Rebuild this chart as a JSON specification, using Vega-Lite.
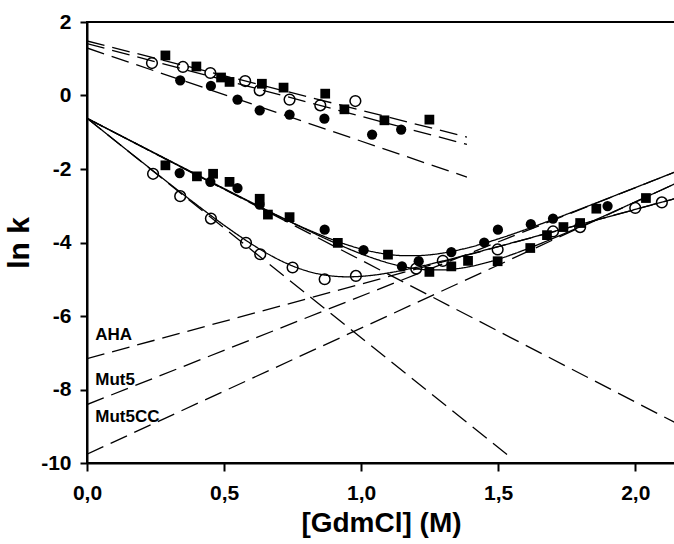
{
  "$schema": "https://vega.github.io/schema/vega-lite/v6.json",
  "width": 588,
  "height": 441,
  "autosize": {"type": "none"},
  "padding": {"left": 87, "top": 22, "right": 0, "bottom": 81},
  "background": "white",
  "config": {"view": {"stroke": "black", "strokeWidth": 2}, "font": "Liberation Sans"},
  "datasets": {
    "pts": [
      {"s": "Mut5CC", "x": 0.286, "y": 1.09}, {"s": "Mut5CC", "x": 0.399, "y": 0.79}, {"s": "Mut5CC", "x": 0.489, "y": 0.49}, {"s": "Mut5CC", "x": 0.52, "y": 0.37}, {"s": "Mut5CC", "x": 0.638, "y": 0.32}, {"s": "Mut5CC", "x": 0.717, "y": 0.215}, {"s": "Mut5CC", "x": 0.869, "y": 0.05}, {"s": "Mut5CC", "x": 0.939, "y": -0.376}, {"s": "Mut5CC", "x": 1.085, "y": -0.675}, {"s": "Mut5CC", "x": 1.249, "y": -0.656},
      {"s": "AHA", "x": 0.237, "y": 0.884}, {"s": "AHA", "x": 0.35, "y": 0.776}, {"s": "AHA", "x": 0.45, "y": 0.612}, {"s": "AHA", "x": 0.577, "y": 0.394}, {"s": "AHA", "x": 0.63, "y": 0.141}, {"s": "AHA", "x": 0.739, "y": -0.112}, {"s": "AHA", "x": 0.851, "y": -0.267}, {"s": "AHA", "x": 0.979, "y": -0.15},
      {"s": "Mut5", "x": 0.34, "y": 0.414}, {"s": "Mut5", "x": 0.452, "y": 0.259}, {"s": "Mut5", "x": 0.549, "y": -0.112}, {"s": "Mut5", "x": 0.63, "y": -0.403}, {"s": "Mut5", "x": 0.739, "y": -0.52}, {"s": "Mut5", "x": 0.866, "y": -0.63}, {"s": "Mut5", "x": 1.04, "y": -1.064}, {"s": "Mut5", "x": 1.146, "y": -0.928},
      {"s": "Mut5CC", "x": 0.286, "y": -1.9}, {"s": "Mut5CC", "x": 0.401, "y": -2.2}, {"s": "Mut5CC", "x": 0.46, "y": -2.13}, {"s": "Mut5CC", "x": 0.52, "y": -2.35}, {"s": "Mut5CC", "x": 0.63, "y": -2.81}, {"s": "Mut5CC", "x": 0.66, "y": -3.24}, {"s": "Mut5CC", "x": 0.739, "y": -3.31}, {"s": "Mut5CC", "x": 0.915, "y": -4.01}, {"s": "Mut5CC", "x": 1.098, "y": -4.33}, {"s": "Mut5CC", "x": 1.249, "y": -4.8}, {"s": "Mut5CC", "x": 1.329, "y": -4.65}, {"s": "Mut5CC", "x": 1.39, "y": -4.5}, {"s": "Mut5CC", "x": 1.498, "y": -4.51}, {"s": "Mut5CC", "x": 1.617, "y": -4.15}, {"s": "Mut5CC", "x": 1.678, "y": -3.8}, {"s": "Mut5CC", "x": 1.738, "y": -3.58}, {"s": "Mut5CC", "x": 1.799, "y": -3.47}, {"s": "Mut5CC", "x": 1.858, "y": -3.08}, {"s": "Mut5CC", "x": 2.039, "y": -2.79},
      {"s": "Mut5", "x": 0.338, "y": -2.11}, {"s": "Mut5", "x": 0.45, "y": -2.35}, {"s": "Mut5", "x": 0.549, "y": -2.52}, {"s": "Mut5", "x": 0.63, "y": -2.97}, {"s": "Mut5", "x": 0.867, "y": -3.65}, {"s": "Mut5", "x": 1.009, "y": -4.21}, {"s": "Mut5", "x": 1.149, "y": -4.65}, {"s": "Mut5", "x": 1.21, "y": -4.51}, {"s": "Mut5", "x": 1.329, "y": -4.26}, {"s": "Mut5", "x": 1.449, "y": -4.0}, {"s": "Mut5", "x": 1.499, "y": -3.65}, {"s": "Mut5", "x": 1.619, "y": -3.5}, {"s": "Mut5", "x": 1.7, "y": -3.35}, {"s": "Mut5", "x": 1.899, "y": -3.01},
      {"s": "AHA", "x": 0.241, "y": -2.13}, {"s": "AHA", "x": 0.34, "y": -2.74}, {"s": "AHA", "x": 0.452, "y": -3.35}, {"s": "AHA", "x": 0.58, "y": -4.01}, {"s": "AHA", "x": 0.632, "y": -4.32}, {"s": "AHA", "x": 0.75, "y": -4.68}, {"s": "AHA", "x": 0.867, "y": -5.0}, {"s": "AHA", "x": 0.981, "y": -4.91}, {"s": "AHA", "x": 1.201, "y": -4.71}, {"s": "AHA", "x": 1.298, "y": -4.5}, {"s": "AHA", "x": 1.498, "y": -4.19}, {"s": "AHA", "x": 1.7, "y": -3.7}, {"s": "AHA", "x": 1.799, "y": -3.58}, {"s": "AHA", "x": 2.0, "y": -3.06}, {"s": "AHA", "x": 2.097, "y": -2.91}
    ],
    "lines": [
      {"id": "fAHA", "kind": "solid", "x": 0, "y": -0.618}, {"id": "fAHA", "kind": "solid", "x": 0.1, "y": -1.214}, {"id": "fAHA", "kind": "solid", "x": 0.2, "y": -1.807}, {"id": "fAHA", "kind": "solid", "x": 0.3, "y": -2.395}, {"id": "fAHA", "kind": "solid", "x": 0.4, "y": -2.973}, {"id": "fAHA", "kind": "solid", "x": 0.5, "y": -3.529}, {"id": "fAHA", "kind": "solid", "x": 0.6, "y": -4.04}, {"id": "fAHA", "kind": "solid", "x": 0.65, "y": -4.268}, {"id": "fAHA", "kind": "solid", "x": 0.7, "y": -4.469}, {"id": "fAHA", "kind": "solid", "x": 0.75, "y": -4.638}, {"id": "fAHA", "kind": "solid", "x": 0.8, "y": -4.77}, {"id": "fAHA", "kind": "solid", "x": 0.85, "y": -4.863}, {"id": "fAHA", "kind": "solid", "x": 0.9, "y": -4.916}, {"id": "fAHA", "kind": "solid", "x": 0.95, "y": -4.934}, {"id": "fAHA", "kind": "solid", "x": 1.0, "y": -4.921}, {"id": "fAHA", "kind": "solid", "x": 1.05, "y": -4.884}, {"id": "fAHA", "kind": "solid", "x": 1.1, "y": -4.828}, {"id": "fAHA", "kind": "solid", "x": 1.2, "y": -4.678}, {"id": "fAHA", "kind": "solid", "x": 1.3, "y": -4.5}, {"id": "fAHA", "kind": "solid", "x": 1.4, "y": -4.309}, {"id": "fAHA", "kind": "solid", "x": 1.5, "y": -4.111}, {"id": "fAHA", "kind": "solid", "x": 1.6, "y": -3.91}, {"id": "fAHA", "kind": "solid", "x": 1.7, "y": -3.708}, {"id": "fAHA", "kind": "solid", "x": 1.8, "y": -3.506}, {"id": "fAHA", "kind": "solid", "x": 1.9, "y": -3.303}, {"id": "fAHA", "kind": "solid", "x": 2.0, "y": -3.1}, {"id": "fAHA", "kind": "solid", "x": 2.1, "y": -2.897}, {"id": "fAHA", "kind": "solid", "x": 2.145, "y": -2.806},
      {"id": "fMut5", "kind": "solid", "x": 0, "y": -0.62}, {"id": "fMut5", "kind": "solid", "x": 0.1, "y": -1.007}, {"id": "fMut5", "kind": "solid", "x": 0.2, "y": -1.394}, {"id": "fMut5", "kind": "solid", "x": 0.3, "y": -1.781}, {"id": "fMut5", "kind": "solid", "x": 0.4, "y": -2.166}, {"id": "fMut5", "kind": "solid", "x": 0.5, "y": -2.547}, {"id": "fMut5", "kind": "solid", "x": 0.6, "y": -2.923}, {"id": "fMut5", "kind": "solid", "x": 0.7, "y": -3.288}, {"id": "fMut5", "kind": "solid", "x": 0.8, "y": -3.631}, {"id": "fMut5", "kind": "solid", "x": 0.9, "y": -3.935}, {"id": "fMut5", "kind": "solid", "x": 0.95, "y": -4.065}, {"id": "fMut5", "kind": "solid", "x": 1.0, "y": -4.176}, {"id": "fMut5", "kind": "solid", "x": 1.05, "y": -4.263}, {"id": "fMut5", "kind": "solid", "x": 1.1, "y": -4.324}, {"id": "fMut5", "kind": "solid", "x": 1.15, "y": -4.356}, {"id": "fMut5", "kind": "solid", "x": 1.2, "y": -4.359}, {"id": "fMut5", "kind": "solid", "x": 1.25, "y": -4.335}, {"id": "fMut5", "kind": "solid", "x": 1.3, "y": -4.285}, {"id": "fMut5", "kind": "solid", "x": 1.35, "y": -4.213}, {"id": "fMut5", "kind": "solid", "x": 1.4, "y": -4.123}, {"id": "fMut5", "kind": "solid", "x": 1.5, "y": -3.903}, {"id": "fMut5", "kind": "solid", "x": 1.6, "y": -3.648}, {"id": "fMut5", "kind": "solid", "x": 1.7, "y": -3.373}, {"id": "fMut5", "kind": "solid", "x": 1.8, "y": -3.089}, {"id": "fMut5", "kind": "solid", "x": 1.9, "y": -2.799}, {"id": "fMut5", "kind": "solid", "x": 2.0, "y": -2.507}, {"id": "fMut5", "kind": "solid", "x": 2.1, "y": -2.214}, {"id": "fMut5", "kind": "solid", "x": 2.145, "y": -2.081},
      {"id": "fMut5CC", "kind": "solid", "x": 0, "y": -0.62}, {"id": "fMut5CC", "kind": "solid", "x": 0.1, "y": -1.003}, {"id": "fMut5CC", "kind": "solid", "x": 0.2, "y": -1.386}, {"id": "fMut5CC", "kind": "solid", "x": 0.3, "y": -1.768}, {"id": "fMut5CC", "kind": "solid", "x": 0.4, "y": -2.15}, {"id": "fMut5CC", "kind": "solid", "x": 0.5, "y": -2.531}, {"id": "fMut5CC", "kind": "solid", "x": 0.6, "y": -2.91}, {"id": "fMut5CC", "kind": "solid", "x": 0.7, "y": -3.284}, {"id": "fMut5CC", "kind": "solid", "x": 0.8, "y": -3.649}, {"id": "fMut5CC", "kind": "solid", "x": 0.9, "y": -3.996}, {"id": "fMut5CC", "kind": "solid", "x": 0.95, "y": -4.158}, {"id": "fMut5CC", "kind": "solid", "x": 1.0, "y": -4.308}, {"id": "fMut5CC", "kind": "solid", "x": 1.05, "y": -4.443}, {"id": "fMut5CC", "kind": "solid", "x": 1.1, "y": -4.559}, {"id": "fMut5CC", "kind": "solid", "x": 1.15, "y": -4.651}, {"id": "fMut5CC", "kind": "solid", "x": 1.2, "y": -4.714}, {"id": "fMut5CC", "kind": "solid", "x": 1.25, "y": -4.746}, {"id": "fMut5CC", "kind": "solid", "x": 1.3, "y": -4.746}, {"id": "fMut5CC", "kind": "solid", "x": 1.35, "y": -4.713}, {"id": "fMut5CC", "kind": "solid", "x": 1.4, "y": -4.651}, {"id": "fMut5CC", "kind": "solid", "x": 1.5, "y": -4.455}, {"id": "fMut5CC", "kind": "solid", "x": 1.6, "y": -4.191}, {"id": "fMut5CC", "kind": "solid", "x": 1.7, "y": -3.889}, {"id": "fMut5CC", "kind": "solid", "x": 1.8, "y": -3.567}, {"id": "fMut5CC", "kind": "solid", "x": 1.9, "y": -3.233}, {"id": "fMut5CC", "kind": "solid", "x": 2.0, "y": -2.895}, {"id": "fMut5CC", "kind": "solid", "x": 2.1, "y": -2.555}, {"id": "fMut5CC", "kind": "solid", "x": 2.145, "y": -2.401},
      {"id": "uAHA", "kind": "dash", "x": 0, "y": -7.16}, {"id": "uAHA", "kind": "dash", "x": 2.145, "y": -2.806},
      {"id": "uMut5", "kind": "dash", "x": 0, "y": -8.41}, {"id": "uMut5", "kind": "dash", "x": 2.145, "y": -2.082},
      {"id": "uMut5CC", "kind": "dash", "x": 0, "y": -9.76}, {"id": "uMut5CC", "kind": "dash", "x": 2.145, "y": -2.403},
      {"id": "rAHA", "kind": "dash", "x": 0, "y": -0.62}, {"id": "rAHA", "kind": "dash", "x": 1.54, "y": -9.814},
      {"id": "rMut", "kind": "dash", "x": 0, "y": -0.62}, {"id": "rMut", "kind": "dash", "x": 2.145, "y": -8.9},
      {"id": "t1", "kind": "dash", "x": 0, "y": 1.483}, {"id": "t1", "kind": "dash", "x": 1.386, "y": -1.13},
      {"id": "t2", "kind": "dash", "x": 0, "y": 1.412}, {"id": "t2", "kind": "dash", "x": 1.386, "y": -1.33},
      {"id": "t3", "kind": "dash", "x": 0, "y": 1.293}, {"id": "t3", "kind": "dash", "x": 1.386, "y": -2.22}
    ],
    "labels": [
      {"label": "AHA", "x": 0.03, "y": -6.53},
      {"label": "Mut5", "x": 0.03, "y": -7.75},
      {"label": "Mut5CC", "x": 0.03, "y": -8.75}
    ]
  },
  "encoding": {
    "x": {
      "field": "x", "type": "quantitative",
      "scale": {"domain": [0, 2.145], "nice": false, "zero": false},
      "axis": {
        "values": [0, 0.5, 1, 1.5, 2],
        "labelExpr": "replace(format(datum.value,'.1f'),'.',',')",
        "title": "[GdmCl] (M)", "grid": false,
        "domainColor": "black", "domainWidth": 2, "tickColor": "black", "tickWidth": 2, "tickSize": 8,
        "labelFont": "Liberation Sans", "labelFontSize": 21, "labelFontWeight": "bold", "labelColor": "black", "labelPadding": 11,
        "labelFlush": false, "labelOverlap": false,
        "titleFont": "Liberation Sans", "titleFontSize": 28, "titleFontWeight": "bold", "titleColor": "black",
        "titleX": 294, "titleY": 60, "titleBaseline": "middle", "titleAlign": "center"
      }
    },
    "y": {
      "field": "y", "type": "quantitative",
      "scale": {"domain": [-10, 2], "nice": false, "zero": false},
      "axis": {
        "values": [-10, -8, -6, -4, -2, 0, 2],
        "labelExpr": "''+datum.value",
        "title": "ln k", "grid": false,
        "domainColor": "black", "domainWidth": 2, "tickColor": "black", "tickWidth": 2, "tickSize": 7,
        "labelFont": "Liberation Sans", "labelFontSize": 21, "labelFontWeight": "bold", "labelColor": "black", "labelPadding": 9,
        "labelFlush": false, "labelOverlap": false,
        "titleFont": "Liberation Sans", "titleFontSize": 30, "titleFontWeight": "bold", "titleColor": "black",
        "titleAngle": 270, "titleX": -68, "titleY": 220.5, "titleBaseline": "middle", "titleAlign": "center"
      }
    }
  },
  "layer": [
    {
      "data": {"name": "lines"},
      "mark": {"type": "line", "clip": true, "strokeWidth": 1.3, "color": "black", "interpolate": "monotone"},
      "encoding": {
        "detail": {"field": "id"},
        "strokeDash": {"field": "kind", "type": "nominal", "scale": {"domain": ["solid", "dash"], "range": [[1, 0], [18, 8]]}, "legend": null}
      }
    },
    {
      "data": {"name": "pts"},
      "transform": [{"filter": "datum.s === 'Mut5CC'"}],
      "mark": {"type": "point", "shape": "square", "filled": true, "color": "black", "opacity": 1, "size": 95}
    },
    {
      "data": {"name": "pts"},
      "transform": [{"filter": "datum.s === 'Mut5'"}],
      "mark": {"type": "point", "shape": "circle", "filled": true, "color": "black", "opacity": 1, "size": 105}
    },
    {
      "data": {"name": "pts"},
      "transform": [{"filter": "datum.s === 'AHA'"}],
      "mark": {"type": "point", "shape": "circle", "filled": false, "color": "black", "opacity": 1, "size": 115, "strokeWidth": 1.5}
    },
    {
      "data": {"name": "labels"},
      "mark": {"type": "text", "align": "left", "baseline": "middle", "font": "Liberation Sans", "fontSize": 17, "fontWeight": "bold", "color": "black"},
      "encoding": {"text": {"field": "label"}}
    }
  ]
}
